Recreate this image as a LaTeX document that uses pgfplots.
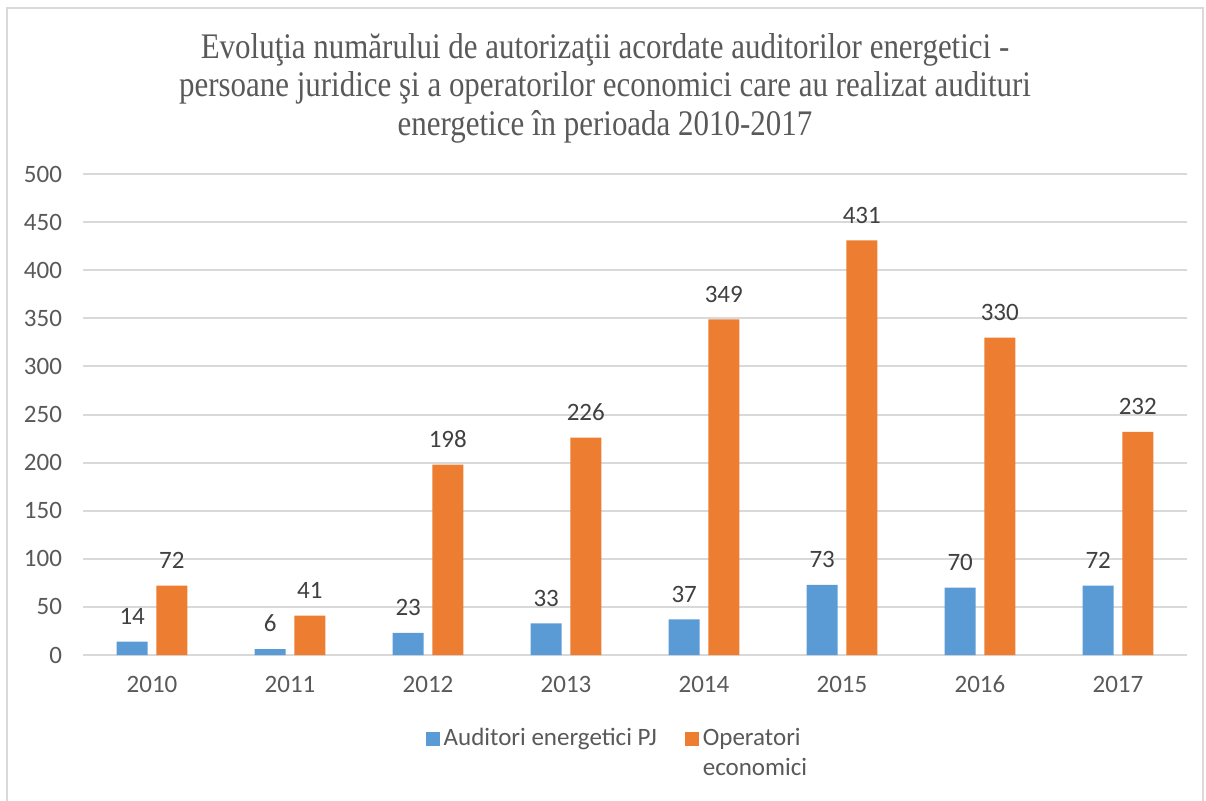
\documentclass[border=0pt]{standalone}
\usepackage{pgfplots}
\pgfplotsset{compat=1.18}
\usepackage{fontspec}
\setmainfont{Carlito}
\newfontfamily\titlefont[FakeStretch=0.86]{Liberation Serif}
\definecolor{cblue}{HTML}{5B9BD5}
\definecolor{corange}{HTML}{ED7D31}
\definecolor{tgray}{HTML}{595959}
\definecolor{lgray}{HTML}{404040}
\definecolor{ggray}{HTML}{D9D9D9}
\begin{document}
\begin{tikzpicture}
\begin{axis}[
  scale only axis, width=552pt, height=240.5pt,
  xmin=-0.5, xmax=7.5, ymin=0, ymax=500,
  ybar, bar width=15.5pt,
  axis line style={draw=none},
  major tick length=0pt,
  ytick={0,50,...,500},
  xtick={0,...,7},
  xticklabels={2010,2011,2012,2013,2014,2015,2016,2017},
  ymajorgrids, grid style={ggray, line width=1pt},
  tick label style={font=\fontsize{12.5}{14}\selectfont, text=tgray},
  /pgf/number format/assume math mode=true,
  yticklabel style={xshift=-7pt},
  xticklabel style={yshift=-7pt},
  nodes near coords,
  nodes near coords style={font=\fontsize{12.5}{14}\selectfont, text=lgray, yshift=5pt},
  legend style={at={(0.485,-0.135)}, anchor=north, draw=none,
    legend columns=2, font=\fontsize{12.5}{15}\selectfont, text=tgray,
    cells={align=left},
    /tikz/every even column/.append style={column sep=12pt}},
  legend image code/.code={\path[#1] (0pt,4pt) rectangle (7pt,11pt);},
]
\addplot[fill=cblue, draw=none, bar shift=-9.9pt] coordinates {(0,14) (1,6) (2,23) (3,33) (4,37) (5,73) (6,70) (7,72)};
\addlegendentry{Auditori energetici PJ\\\strut}
\addplot[fill=corange, draw=none, bar shift=9.9pt] coordinates {(0,72) (1,41) (2,198) (3,226) (4,349) (5,431) (6,330) (7,232)};
\addlegendentry{Operatori\\economici}
\coordinate (sw) at (rel axis cs:0,0);
\end{axis}
\pgfresetboundingbox
\begin{scope}[shift={(sw)}, x=1pt, y=1pt]
\path[use as bounding box] (-41.5,-72.5) rectangle (561.5,327.5);
\draw[ggray, line width=1pt] (-38,-80) -- (-38,323.5) -- (560,323.5) -- (560,-80);
\node[font=\titlefont\fontsize{18}{19.3}\selectfont, text=tgray, align=center] at (261,283.5) {Evoluţia numărului de autorizaţii acordate auditorilor energetici -\\ persoane juridice şi a operatorilor economici care au realizat audituri\\ energetice în perioada 2010-2017};
\end{scope}
\end{tikzpicture}
\end{document}
